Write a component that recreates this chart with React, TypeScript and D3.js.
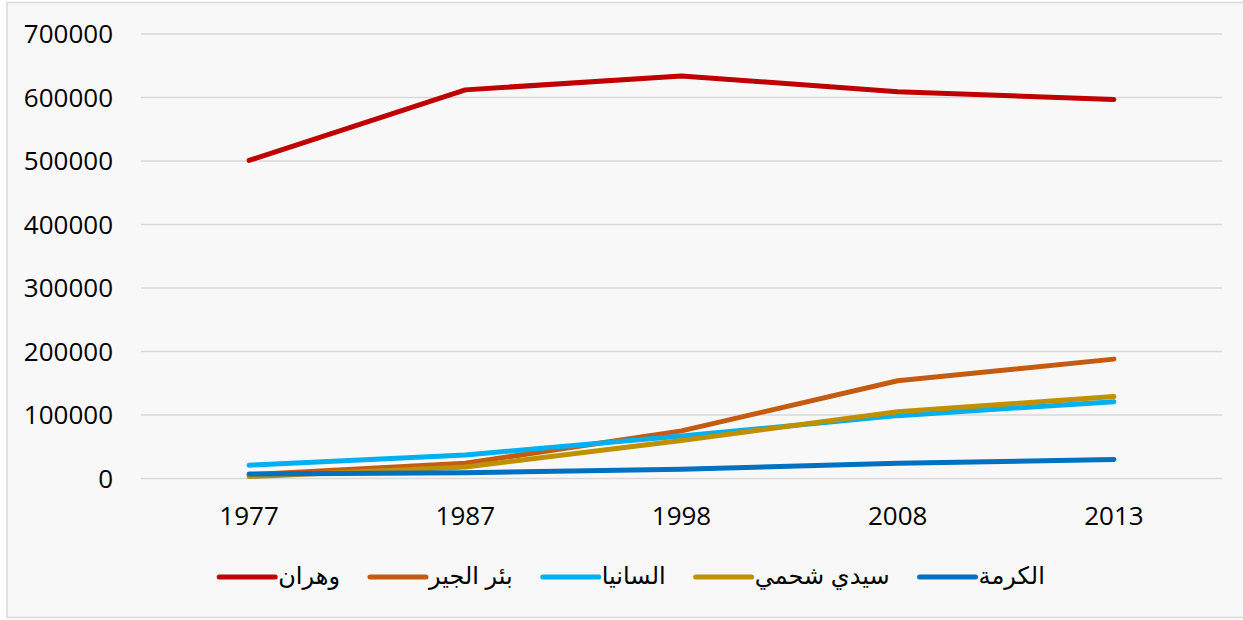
import React, { useEffect, useRef } from "react";
import * as d3 from "d3";

const years = ["1977", "1987", "1998", "2008", "2013"];
const seriesNames = ["وهران", "بئر الجير", "السانيا", "سيدي شحمي", "الكرمة"];
const seriesColors = ["#c00000", "#c55a11", "#00b0f0", "#bf9000", "#0070c0"];

const wahran = [501000, 612000, 634000, 609000, 597000];
const birElDjir = [6000, 24000, 75000, 154000, 188000];
const esSenia = [21000, 37000, 67000, 99000, 121000];
const sidiChahmi = [3000, 18000, 60000, 105000, 129000];
const elKerma = [7000, 9000, 14500, 24000, 30000];

const seriesValues = [wahran, birElDjir, esSenia, sidiChahmi, elKerma];
const yTicks = [0, 100000, 200000, 300000, 400000, 500000, 600000, 700000];

const App: React.FC = () => {
  const width = 1243;
  const height = 620;
  const svgRef = useRef<SVGSVGElement>(null);

  useEffect(() => {
    const svg = d3.select(svgRef.current);
    if (svg.empty()) return;
    svg.selectAll("*").remove();

    const left = 141;
    const right = 1222;
    const top = 34;
    const bottom = 478.5;

    const x = d3.scaleBand<string>().domain(years).range([left, right]);
    const y = d3.scaleLinear().domain([0, 700000]).range([bottom, top]);

    // chart frame
    svg
      .append("rect")
      .attr("x", 7)
      .attr("y", 2.5)
      .attr("width", 1240)
      .attr("height", 615)
      .attr("fill", "#f8f8f8")
      .attr("stroke", "#d9d9d9")
      .attr("stroke-width", 1.5);

    // gridlines
    svg
      .append("g")
      .selectAll("line")
      .data(yTicks)
      .enter()
      .append("line")
      .attr("x1", left)
      .attr("x2", right)
      .attr("y1", (d) => y(d))
      .attr("y2", (d) => y(d))
      .attr("stroke", "#d9d9d9")
      .attr("stroke-width", 1.5);

    // y labels
    svg
      .append("g")
      .selectAll("text")
      .data(yTicks)
      .enter()
      .append("text")
      .attr("x", 113)
      .attr("y", (d) => y(d))
      .attr("dy", "0.35em")
      .attr("text-anchor", "end")
      .attr("font-family", "'Open Sans', sans-serif")
      .attr("font-size", 26)
      .attr("fill", "#000")
      .text((d) => String(d));

    // x labels
    svg
      .append("g")
      .selectAll("text")
      .data(years)
      .enter()
      .append("text")
      .attr("x", (d) => (x(d) ?? 0) + x.bandwidth() / 2)
      .attr("y", 525)
      .attr("text-anchor", "middle")
      .attr("font-family", "'Open Sans', sans-serif")
      .attr("font-size", 26)
      .attr("fill", "#000")
      .text((d) => d);

    const line = d3
      .line<number>()
      .x((_, i) => (x(years[i]) ?? 0) + x.bandwidth() / 2)
      .y((d) => y(d));

    svg
      .append("g")
      .selectAll("path")
      .data(seriesValues)
      .enter()
      .append("path")
      .attr("d", (d) => line(d))
      .attr("fill", "none")
      .attr("stroke", (_, i) => seriesColors[i])
      .attr("stroke-width", 5)
      .attr("stroke-linecap", "round")
      .attr("stroke-linejoin", "round");

    // legend: swatch then label, laid out from measured widths
    const legendY = 577;
    const swatch = 56;
    const legend = svg.append("g");
    const items = seriesNames.map((name, i) => {
      const g = legend.append("g");
      g.append("line")
        .attr("x1", 0)
        .attr("x2", swatch)
        .attr("y1", legendY)
        .attr("y2", legendY)
        .attr("stroke", seriesColors[i])
        .attr("stroke-width", 5)
        .attr("stroke-linecap", "round");
      const t = g
        .append("text")
        .attr("x", swatch + 3)
        .attr("y", legendY)
        .attr("dy", "0.3em")
        .attr("font-family", "'Liberation Sans', 'DejaVu Sans', sans-serif")
        .attr("font-size", 24)
        .attr("fill", "#000")
        .text(name);
      const w = (t.node() as SVGTextElement).getComputedTextLength();
      return { g, w: swatch + 3 + w };
    });
    const gap = 30;
    const total = d3.sum(items, (d) => d.w) + gap * (items.length - 1);
    let cx = 632 - total / 2;
    items.forEach((it) => {
      it.g.attr("transform", `translate(${cx},0)`);
      cx += it.w + gap;
    });
  }, []);

  return (
    <div style={{ position: "absolute", left: 0, top: 0 }}>
      <svg ref={svgRef} width={width} height={height} style={{ display: "block" }}></svg>
    </div>
  );
};

export default App;
